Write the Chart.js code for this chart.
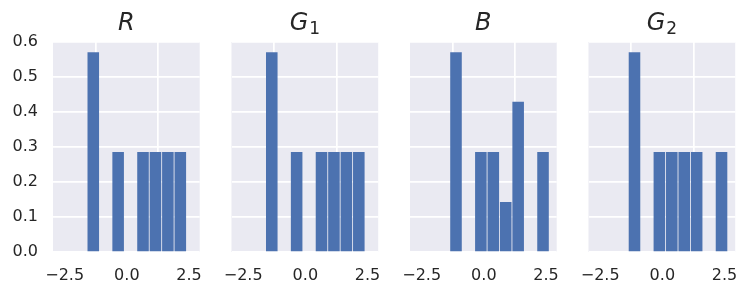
<!DOCTYPE html>
<html>
<head>
<meta charset="utf-8">
<script src="https://cdn.jsdelivr.net/npm/chart.js@4.4.1/dist/chart.umd.min.js"></script>
<style>
    html, body { margin: 0; padding: 0; background: #fff; }
    #wrap { position: relative; width: 748px; height: 295px; overflow: hidden; }
    #wrap canvas { position: absolute; top: 0; }
</style>
</head>
<body>
<div id="wrap"></div>
<script>
// panel titles: italic letter + optional upright subscript
const titleLetters = ["R", "G", "B", "G"];
const titleSubs = ["", "1", "", "2"];

// histogram bin centres (bin width 0.5)
const binsRG1 = [-1.35, -0.85, -0.35, 0.15, 0.65, 1.15, 1.65, 2.15];
const binsBG2 = [-1.12, -0.62, -0.12, 0.38, 0.88, 1.38, 1.88, 2.38];

// density values per panel
const densR = [0.571, 0, 0.286, 0, 0.286, 0.286, 0.286, 0.286];
const densG1 = [0.571, 0, 0.286, 0, 0.286, 0.286, 0.286, 0.286];
const densB = [0.571, 0, 0.286, 0.286, 0.143, 0.429, 0, 0.286];
const densG2 = [0.571, 0, 0.286, 0.286, 0.286, 0.286, 0, 0.286];

const xTicks = [-2.5, 0, 2.5];
const yTicks = [0, 0.1, 0.2, 0.3, 0.4, 0.5, 0.6];

const panels = [
    { bins: binsRG1, dens: densR },
    { bins: binsRG1, dens: densG1 },
    { bins: binsBG2, dens: densB },
    { bins: binsBG2, dens: densG2 },
];

const FONT = "'DejaVu Sans', sans-serif";
const BAR = "#4c72b0";
const BG = "#eaeaf2";
const PLOT_W = 146.7;
const PLOT_TOP = 42;
const X_AXIS_H = 43;
const SIDE = 30; // room left/right of each plot for overhanging tick labels

const backgroundPlugin = {
    id: "axesBg",
    beforeDraw(chart) {
        const { ctx, chartArea: a } = chart;
        ctx.save();
        ctx.fillStyle = BG;
        ctx.fillRect(a.left, a.top, a.right - a.left, a.bottom - a.top);
        ctx.restore();
    },
};

const titlePlugin = {
    id: "mathTitle",
    afterDraw(chart, args, opts) {
        const { ctx, chartArea: a } = chart;
        const cx = (a.left + a.right) / 2;
        const baseY = 30;
        ctx.save();
        ctx.fillStyle = "#262626";
        ctx.textBaseline = "alphabetic";
        ctx.textAlign = "left";
        ctx.font = `italic 24px ${FONT}`;
        const w1 = ctx.measureText(opts.letter).width;
        let w2 = 0;
        ctx.font = `17px ${FONT}`;
        if (opts.sub) w2 = ctx.measureText(opts.sub).width + 1;
        const x = cx - (w1 + w2) / 2;
        ctx.font = `italic 24px ${FONT}`;
        ctx.fillText(opts.letter, x, baseY);
        if (opts.sub) {
            ctx.font = `17px ${FONT}`;
            ctx.fillText(opts.sub, x + w1 + 1, baseY + 4);
        }
        ctx.restore();
    },
};

const wrap = document.getElementById("wrap");

panels.forEach((p, i) => {
    const plotLeft = 53 + 178.5 * i;
    const left = i === 0 ? 0 : Math.floor(plotLeft - SIDE);
    const padLeft = i === 0 ? 0 : plotLeft - left;
    const yAxisW = i === 0 ? plotLeft : 0;
    const cw = Math.ceil(plotLeft - left + PLOT_W + SIDE);
    const padRight = cw - (plotLeft - left) - PLOT_W;

    const canvas = document.createElement("canvas");
    canvas.width = cw;
    canvas.height = 295;
    canvas.style.left = left + "px";
    canvas.style.width = cw + "px";
    canvas.style.height = "295px";
    wrap.appendChild(canvas);

    new Chart(canvas.getContext("2d"), {
        type: "bar",
        data: {
            datasets: [
                {
                    data: p.bins.map((b, k) => ({ x: b, y: p.dens[k] })),
                    backgroundColor: BAR,
                    borderWidth: 0,
                    barPercentage: 0.93,
                    categoryPercentage: 1,
                },
            ],
        },
        options: {
            responsive: false,
            animation: false,
            events: [],
            layout: {
                padding: { top: PLOT_TOP, bottom: 0, left: padLeft, right: padRight },
            },
            plugins: {
                legend: { display: false },
                tooltip: { enabled: false },
                mathTitle: { letter: titleLetters[i], sub: titleSubs[i] },
            },
            scales: {
                x: {
                    type: "linear",
                    min: -2.97,
                    max: 2.93,
                    offset: false,
                    afterBuildTicks: (s) => { s.ticks = xTicks.map((v) => ({ value: v })); },
                    afterFit: (s) => { s.height = X_AXIS_H; },
                    border: { display: false },
                    grid: { color: "#ffffff", lineWidth: 1.7, drawTicks: false },
                    ticks: {
                        color: "#262626",
                        padding: 14,
                        maxRotation: 0,
                        font: { family: FONT, size: 16 },
                        callback: (v) => v.toFixed(1).replace("-", "\u2212"),
                    },
                },
                y: {
                    min: 0,
                    max: 0.6,
                    afterBuildTicks: (s) => { s.ticks = yTicks.map((v) => ({ value: v })); },
                    afterFit: (s) => { s.width = yAxisW; },
                    border: { display: false },
                    grid: { color: "#ffffff", lineWidth: 1.7, drawTicks: false },
                    ticks: {
                        display: i === 0,
                        color: "#262626",
                        padding: 15,
                        font: { family: FONT, size: 16 },
                        callback: (v) => v.toFixed(1),
                    },
                },
            },
        },
        plugins: [backgroundPlugin, titlePlugin],
    });
});
</script>
</body>
</html>
